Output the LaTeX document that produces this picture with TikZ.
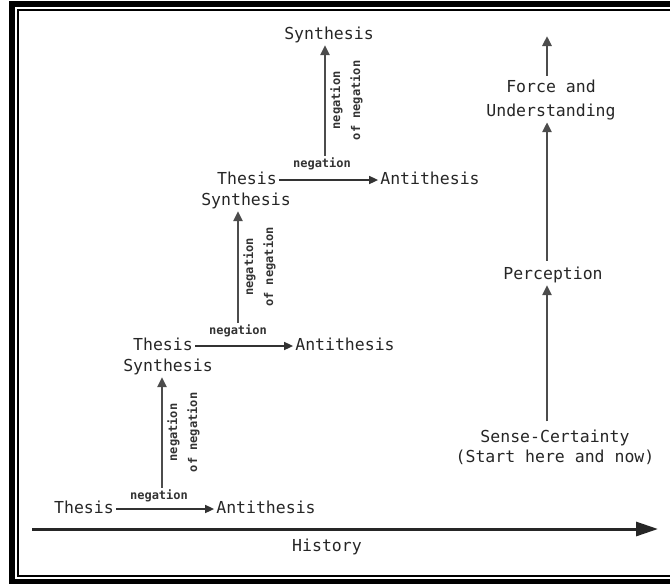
\documentclass[tikz,border=0pt]{standalone}
\usepackage{fontspec}
\setmonofont{DejaVu Sans Mono}
\usepackage{tikz}
\usetikzlibrary{arrows.meta}
\tikzset{
    word/.style={font=\ttfamily\fontsize{16.5}{20}\selectfont, text=black!85, inner sep=2pt, text height=12pt, text depth=4pt},
    small/.style={font=\ttfamily\bfseries\fontsize{12}{20}\selectfont, text=black!80, inner sep=2pt},
    neg/.style={draw=black!80, line width=1.6pt, -{Triangle[length=9pt,width=8pt]}},
    negneg/.style={draw=black!70, line width=2.6pt, -{Triangle[length=10pt,width=9pt]}},
    frame/.style={line width=6pt},
}

\begin{document}
\begin{tikzpicture}[x=1pt,y=-1pt]
\useasboundingbox (0,0) rectangle (670,584);
\begin{scope}
\clip (0,0) rectangle (670,584);
\draw[frame] (12,4) rectangle (690,582);
\draw[line width=2pt] (18,9.5) rectangle (680,576);
\end{scope}

% history axis
\node[word] (hist) at (327,547) {History};
\coordinate (h0) at (32,529);
\coordinate (h1) at (658,529);
\draw[black!85, line width=3pt, -{Triangle[length=22pt,width=14pt]}] (h0) -- (h1);

% first step
\node[word] (th1) at (84,509) {Thesis};
\node[word] (an1) at (266,509) {Antithesis};
\draw[neg] (th1) -- (an1);
\node[small] (ng1) at (159,496) {negation};
\node[word] (sy1) at (168,367) {Synthesis};
\draw[negneg] (ng1.north -| 162,0) -- (sy1.south -| 162,0)
    node[small, midway, rotate=90, anchor=north, align=center, inner sep=4pt] (nn1) {negation\\of negation};

% second step
\node[word] (th2) at (163,346) {Thesis};
\node[word] (an2) at (345,346) {Antithesis};
\draw[neg] (th2) -- (an2);
\node[small] (ng2) at (238,331) {negation};
\node[word] (sy3) at (246,201) {Synthesis};
\draw[negneg] (ng2.north -| 238,0) -- (sy3.south -| 238,0)
    node[small, midway, rotate=90, anchor=north, align=center, inner sep=4pt] (nn2) {negation\\of negation};

% third step
\node[word] (th3) at (247,180) {Thesis};
\node[word] (an3) at (430,180) {Antithesis};
\draw[neg] (th3) -- (an3);
\node[small] (ng3) at (322,164) {negation};
\node[word] (sy4) at (329,35) {Synthesis};
\draw[negneg] (ng3.north -| 325,0) -- (sy4.south -| 325,0)
    node[small, midway, rotate=90, anchor=north, align=center, inner sep=4pt] (nn3) {negation\\of negation};

% right column
\node[word, align=center, text height=, text depth=] (sc) at (555,447) {Sense-Certainty\\(Start here and now)};
\node[word] (pe) at (553,275) {Perception};
\node[word, align=center, text height=, text depth=] (fu) at (551,100) {Force and\\[4pt]Understanding};
\coordinate (up) at (547,36);
\draw[negneg, shorten <=6pt] (sc.north -| up) -- (pe.south -| up);
\draw[negneg, shorten <=4pt] (pe.north -| up) -- (fu.south -| up);
\draw[negneg, shorten <=2pt] (fu.north -| up) -- (up);
\end{tikzpicture}
\end{document}
